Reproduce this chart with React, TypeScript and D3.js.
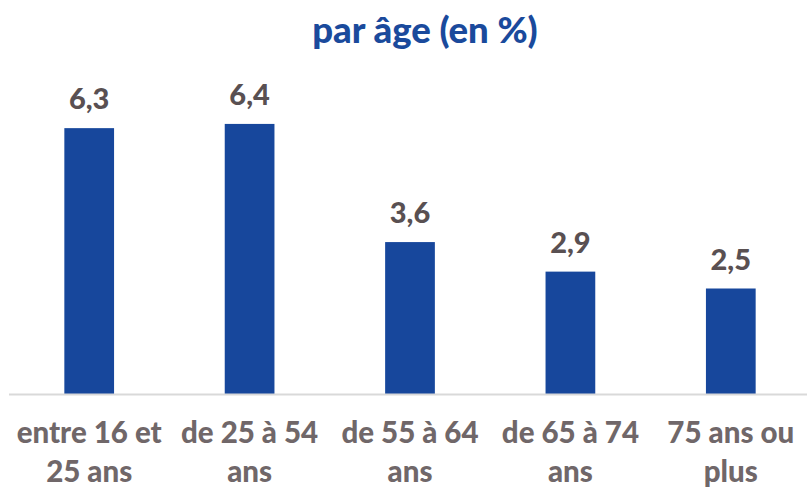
import React, { useEffect, useRef } from "react";
import * as d3 from "d3";

const categories = [
  "entre 16 et\n25 ans",
  "de 25 à 54\nans",
  "de 55 à 64\nans",
  "de 65 à 74\nans",
  "75 ans ou\nplus",
];
const values = [6.3, 6.4, 3.6, 2.9, 2.5];
const title = "par âge (en %)";

const width = 807;
const height = 493;

const BarChart: React.FC = () => {
  const ref = useRef<SVGSVGElement | null>(null);

  useEffect(() => {
    if (!ref.current) return;
    const svg = d3.select(ref.current);
    svg.selectAll("*").remove();

    const font = "Lato, 'Open Sans', sans-serif";
    const baseline = 394;

    const x = d3
      .scaleBand<number>()
      .domain(d3.range(categories.length))
      .range([9, 811])
      .paddingInner(0.69)
      .paddingOuter(0.345);

    const y = d3.scaleLinear().domain([0, 7]).range([baseline, baseline - 7 * 42.2]);

    svg
      .append("text")
      .attr("x", 425)
      .attr("y", 43)
      .attr("text-anchor", "middle")
      .attr("font-family", font)
      .attr("font-weight", 900)
      .attr("font-size", 36.5)
      .attr("fill", "#1a4a9c")
      .text(title);

    svg
      .selectAll("rect.bar")
      .data(values)
      .enter()
      .append("rect")
      .attr("class", "bar")
      .attr("x", (d, i) => x(i)!)
      .attr("y", (d) => y(d))
      .attr("width", x.bandwidth())
      .attr("height", (d) => baseline - y(d))
      .attr("fill", "#17479c");

    svg
      .append("line")
      .attr("x1", 9)
      .attr("x2", width)
      .attr("y1", baseline + 0.5)
      .attr("y2", baseline + 0.5)
      .attr("stroke", "#d9d9d9")
      .attr("stroke-width", 2);

    svg
      .selectAll("text.val")
      .data(values)
      .enter()
      .append("text")
      .attr("class", "val")
      .attr("x", (d, i) => x(i)! + x.bandwidth() / 2)
      .attr("y", (d) => y(d) - 19)
      .attr("text-anchor", "middle")
      .attr("font-family", font)
      .attr("font-weight", 900)
      .attr("font-size", 29)
      .attr("fill", "#595052")
      .text((d) => d.toFixed(1).replace(".", ","));

    const labels = svg
      .selectAll("text.cat")
      .data(categories)
      .enter()
      .append("text")
      .attr("class", "cat")
      .attr("text-anchor", "middle")
      .attr("font-family", font)
      .attr("font-weight", 900)
      .attr("font-size", 29.5)
      .attr("fill", "#706769");

    labels.each(function (d, i) {
      const t = d3.select(this);
      d.split("\n").forEach((line, j) => {
        t.append("tspan")
          .attr("x", x(i)! + x.bandwidth() / 2)
          .attr("y", 443 + j * 39)
          .text(line);
      });
    });
  }, []);

  return (
    <svg
      ref={ref}
      width={width}
      height={height}
      style={{ position: "absolute", left: 0, top: 0 }}
    ></svg>
  );
};

export default function App() {
  return <BarChart />;
}
